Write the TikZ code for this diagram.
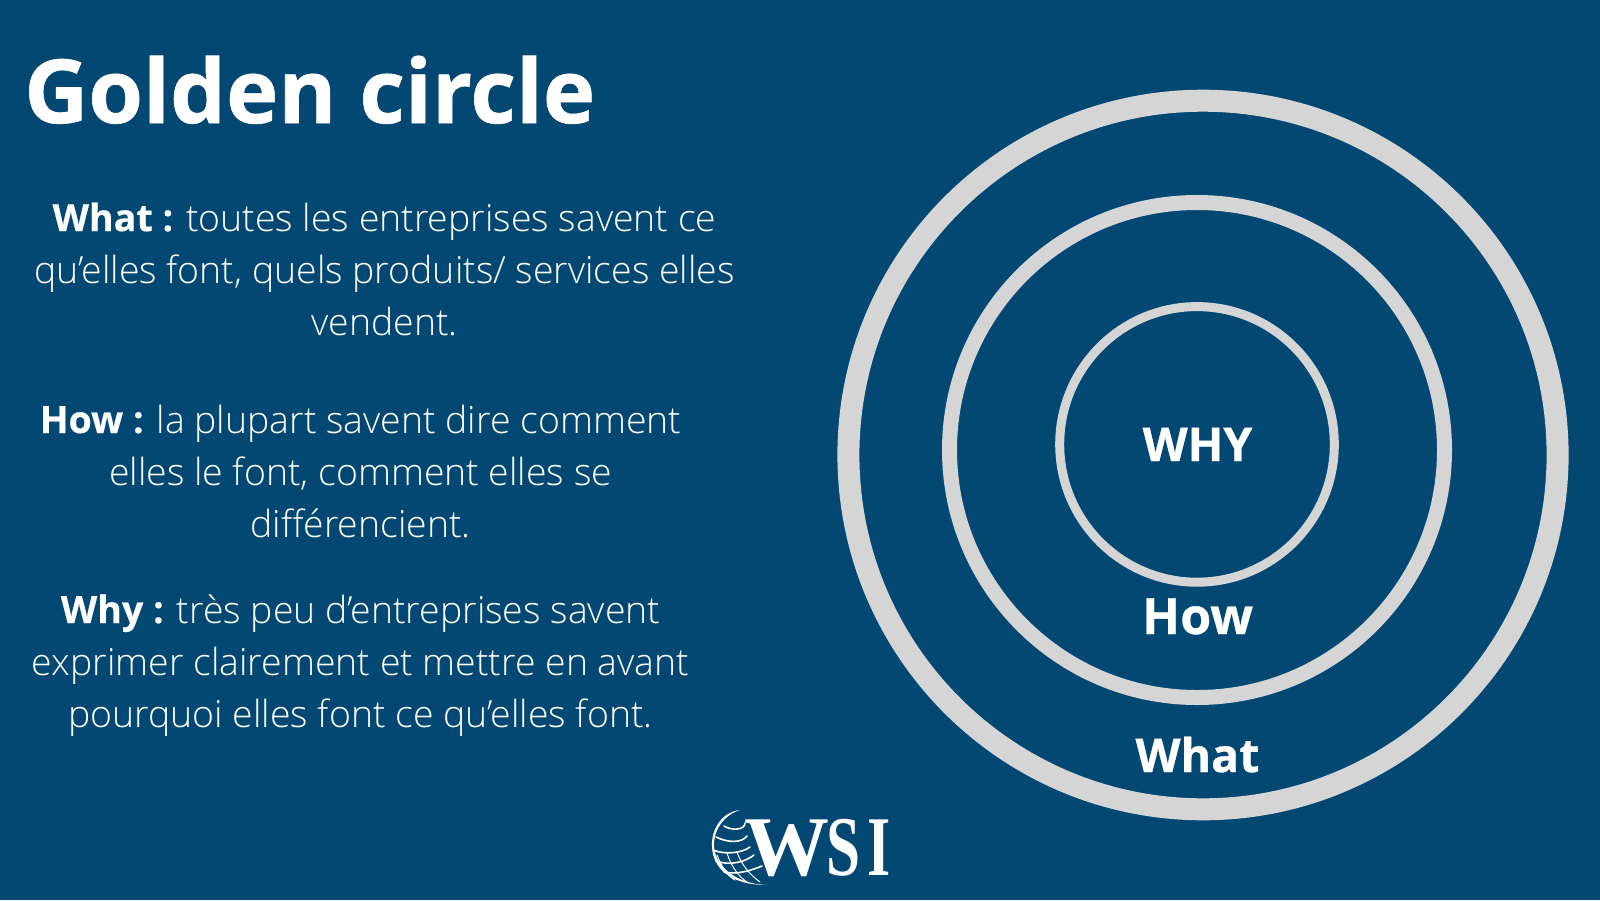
\documentclass[tikz,border=0pt]{standalone}
\usepackage{fontspec}
\setmainfont{Open Sans}
\newfontfamily\oslight{Open Sans Light}
\newfontface\osxbold{Open Sans Bold}[FakeBold=0.7]
\newfontface\ossemi{Open Sans Bold}[FakeBold=0.4]
\newfontfamily\logofont{Liberation Serif}
\newcommand{\lead}[1]{{\fontsize{37.6}{52}\selectfont\ossemi #1}}
\definecolor{bgblue}{HTML}{034873}
\definecolor{ring}{HTML}{D5D5D5}
\tikzset{
  px/.style={x=1pt,y=-1pt},
  title/.style={text=white,anchor=base west,inner sep=0pt,font=\fontsize{88.5}{88}\selectfont\osxbold},
  para/.style={text=white,align=center,inner sep=0pt,font=\fontsize{37.4}{52}\selectfont\oslight},
  lab/.style={text=white,inner sep=0pt,anchor=base,font=\fontsize{46.5}{46}\selectfont\osxbold},
  biglab/.style={lab,font=\fontsize{50}{50}\selectfont\osxbold},
  logoletter/.style={text=white,inner sep=0pt,anchor=base west,font=\fontsize{85}{85}\selectfont\logofont\bfseries},
  globeline/.style={draw=white,line width=1.6pt,line cap=round},
}
\begin{document}
\begin{tikzpicture}[px]
\useasboundingbox (0,0) rectangle (1600,900);
\fill[bgblue] (0,0) rectangle (1600,900);
\node[title] (ttl) at (24,123) {Golden circle};
\node[para] (pwhat) at (384.5,269) {\lead{What :} toutes les entreprises savent ce\\qu’elles font, quels produits/ services elles\\vendent.};
\node[para] (phow) at (360.5,471) {\lead{How :} la plupart savent dire comment\\elles le font, comment elles se\\différencient.};
\node[para] (pwhy) at (360.5,665.2) {\lead{Why :} très peu d’entreprises savent\\exprimer clairement et mettre en avant\\pourquoi elles font ce qu’elles font.};
\draw[ring,line width=22pt] (1203,455) ellipse [x radius=354.6,y radius=354.3];
\draw[ring,line width=15pt] (1197,450) ellipse [x radius=247.5,y radius=247.5];
\draw[ring,line width=9pt] (1197,444.4) ellipse [x radius=137.3,y radius=137.8];
\node[lab] (why) at (1197.5,461) {WHY};
\node[biglab] (how) at (1197.5,634) {How};
\node[lab] (what) at (1197.5,772) {What};
% logo
\fill[white] (740,810) .. controls (722,812) and (711,829) .. (712,847) .. controls (713,868) and (730,885) .. (767,885)
  .. controls (738,884) and (716,868) .. (714,847) .. controls (713,830) and (724,815) .. (740,810) -- cycle;
\draw[globeline] (724,826) .. controls (732,831) and (745,830) .. (745,823);
\draw[globeline] (716,837) .. controls (728,843) and (742,843) .. (747,836);
\draw[globeline] (713,850) .. controls (725,855) and (742,853) .. (750,847);
\draw[globeline] (716,861) .. controls (730,866) and (745,862) .. (754,855);
\draw[globeline] (724,872) .. controls (738,875) and (752,870) .. (762,866);
\draw[globeline,line width=1pt] (717,855) .. controls (722,868) and (728,876) .. (735,880);
\draw[globeline,line width=1pt] (727,853) .. controls (731,866) and (738,876) .. (748,883);
\draw[globeline,line width=1pt] (737,852) .. controls (741,864) and (750,875) .. (760,882);
\node[logoletter] (logoW) at (744,875) {W};
\node[logoletter,xscale=.72] (logoS) at (826,875) {S};
\node[logoletter,xscale=.7] (logoI) at (867,875) {I};
\end{tikzpicture}
\end{document}
